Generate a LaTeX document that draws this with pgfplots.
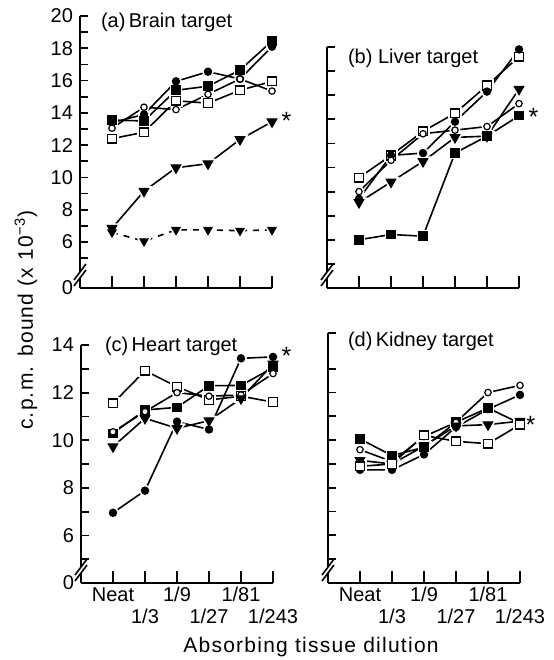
\documentclass[border=0pt]{standalone}
\usepackage{fontspec}
\setmainfont{Liberation Sans}
\newfontfamily\spaced{Liberation Sans}[LetterSpace=6]
\usepackage{pgfplots}
\usepackage{pgfplotstable}
\pgfplotsset{compat=1.18}

\pgfdeclareplotmark{dtri}{%
  \pgfpathmoveto{\pgfqpoint{0pt}{-\pgfplotmarksize}}%
  \pgfpathlineto{\pgfqpointpolar{30}{\pgfplotmarksize}}%
  \pgfpathlineto{\pgfqpointpolar{150}{\pgfplotmarksize}}%
  \pgfpathclose
  \pgfusepathqfillstroke}

\pgfplotstableread{
x fc fs oc os ft ftd
0 13.4 13.55 13.05 12.4 6.85 6.6
1 13.9 13.5 14.35 12.8 9.15 6.05
2 15.95 15.4 14.2 14.75 10.6 6.75
3 16.55 15.65 15.15 14.6 10.85 6.75
4 16.1 16.65 16.1 15.4 12.35 6.7
5 18.1 18.45 15.35 15.95 13.45 6.75
}\ta
\pgfplotstableread{
x os fc oc ft fs
0 8.58 7.7 8.0 7.55 6.0
1 9.5 9.5 9.3 8.4 6.22
2 10.5 9.6 10.4 9.25 6.15
3 11.25 10.9 10.55 10.25 9.6
4 12.4 12.15 10.7 10.3 10.3
5 13.6 13.9 11.65 12.25 11.15
}\tb
\pgfplotstableread{
x os fs oc ft fc
0 11.55 10.29 10.35 9.73 6.95
1 12.92 11.27 11.2 10.92 7.88
2 12.25 11.38 12.0 10.5 10.78
3 11.69 12.29 11.85 10.82 10.45
4 11.85 12.3 11.9 11.75 13.44
5 11.6 13.05 12.8 13.2 13.5
}\tc
\pgfplotstableread{
x fs oc fc ft os
0 10.05 9.6 8.75 9.15 8.9
1 9.35 9.1 8.75 9.0 9.0
2 9.7 10.15 9.4 9.75 10.2
3 10.75 10.75 10.55 10.6 9.95
4 11.35 12.0 11.3 10.65 9.85
5 10.7 12.3 11.9 10.8 10.65
}\td

\pgfplotsset{
  panel/.style={
    scale only axis, width=96pt,
    xmin=-1, xmax=5,
    axis x line*=bottom, axis y line*=left,
    axis line style={line width=1pt,-},
    tick align=inside,
    every tick/.style={black, line width=0.9pt},
    xtick style={/pgfplots/major tick length=6pt},
    ytick style={/pgfplots/major tick length=4pt},
    extra y tick style={ytick style={/pgfplots/major tick length=0pt}},
    tick label style={font=\fontsize{10}{12}\selectfont},
    /pgf/number format/assume math mode=true,
    clip=false,
  },
  topx/.style={xtick={0,...,5}, xticklabels={}},
  botx/.style={
    xtick={0,2,4}, xticklabels={Neat,1/9,1/81},
    extra x ticks={1,3,5}, extra x tick labels={1/3,1/27,1/243},
    xticklabel style={anchor=base, yshift=-9pt},
    extra x tick style={xtick style={/pgfplots/major tick length=6pt}, xticklabel style={yshift=-11pt}},
  },
  ln/.style={black, line width=0.8pt, solid},
  mfc/.style={mark=*, mark size=1.8pt, mark options={fill=black, line width=0.6pt, solid}},
  mfs/.style={mark=square*, mark size=2.1pt, mark options={fill=black, line width=0.6pt, solid}},
  moc/.style={mark=*, mark size=1.6pt, mark options={fill=white, line width=0.6pt, solid}},
  mos/.style={mark=square*, mark size=2.2pt, mark options={fill=white, line width=0.7pt, solid}},
  mft/.style={mark=dtri, mark size=2.8pt, mark options={fill=black, line width=0.5pt, solid}},
  mftd/.style={mark=dtri, mark size=2.4pt, mark options={fill=black, line width=0.5pt, solid}},
}
% line, halo, mark
\newcommand{\Lp}[3]{\addplot[ln,no marks,#3] table[x=x,y=#2]{#1};}
\newcommand{\Hp}[3]{\addplot[only marks,#3,mark options={draw=white,fill=white,line width=2.2pt,solid}] table[x=x,y=#2]{#1};}
\newcommand{\Mp}[3]{\addplot[only marks,black,#3] table[x=x,y=#2]{#1};}

\newcommand{\brk}[1]{%
  \fill[white] ([xshift=-1pt,yshift=5pt]#1.south west) rectangle ([xshift=1pt,yshift=8pt]#1.south west);
  \draw[line width=0.8pt] ([xshift=-3pt,yshift=1pt]#1.south west) -- ([xshift=3pt,yshift=9pt]#1.south west);
  \draw[line width=0.8pt] ([xshift=-3pt,yshift=4pt]#1.south west) -- ([xshift=3pt,yshift=12pt]#1.south west);
}
\newcommand{\astr}{\raisebox{-3pt}{\fontsize{12.5}{12.5}\selectfont *}}
\begin{document}
\begin{tikzpicture}
\path[use as bounding box] (0,0) rectangle (276.5pt,330pt);
\tikzset{every node/.append style={font=\fontsize{10}{12}\selectfont}}

% (a) Brain
\begin{axis}[panel, topx, name=a, at={(40pt,186pt)}, anchor=south west, height=136pt,
  ymin=3.15, ymax=20, ytick={5,...,20},
  yticklabels={,6,,8,,10,,12,,14,,16,,18,,20},
  extra y ticks={3.15}, extra y tick labels={0}]
\Lp{\ta}{fc}{} \Lp{\ta}{fs}{} \Lp{\ta}{oc}{} \Lp{\ta}{os}{} \Lp{\ta}{ft}{}
\Lp{\ta}{ftd}{dashed}
\Hp{\ta}{fc}{mfc} \Hp{\ta}{fs}{mfs} \Hp{\ta}{oc}{moc} \Hp{\ta}{os}{mos} \Hp{\ta}{ft}{mft} \Hp{\ta}{ftd}{mftd}
\Mp{\ta}{fc}{mfc} \Mp{\ta}{fs}{mfs} \Mp{\ta}{oc}{moc} \Mp{\ta}{os}{mos} \Mp{\ta}{ft}{mft} \Mp{\ta}{ftd}{mftd}
\node at (axis cs:5.45,13.5) {\astr};
\end{axis}

% (b) Liver
\begin{axis}[panel, topx, name=b, at={(163.5pt,186pt)}, anchor=south west, height=120.5pt,
  ymin=4, ymax=14, ytick={5,...,14}, yticklabels={}]
\Lp{\tb}{os}{} \Lp{\tb}{fc}{} \Lp{\tb}{oc}{} \Lp{\tb}{ft}{} \Lp{\tb}{fs}{}
\Hp{\tb}{os}{mos} \Hp{\tb}{fc}{mfc} \Hp{\tb}{oc}{moc} \Hp{\tb}{ft}{mft} \Hp{\tb}{fs}{mfs}
\Mp{\tb}{os}{mos} \Mp{\tb}{fc}{mfc} \Mp{\tb}{oc}{moc} \Mp{\tb}{ft}{mft} \Mp{\tb}{fs}{mfs}
\node at (axis cs:5.45,11.1) {\astr};
\end{axis}

% (c) Heart
\begin{axis}[panel, botx, name=c, at={(40.5pt,38.5pt)}, anchor=south west, height=119pt,
  ymin=4, ymax=14, ytick={5,...,14},
  yticklabels={,6,,8,,10,,12,,14},
  extra y ticks={4}, extra y tick labels={0}]
\Lp{\tc}{os}{} \Lp{\tc}{fs}{} \Lp{\tc}{oc}{} \Lp{\tc}{ft}{} \Lp{\tc}{fc}{}
\Hp{\tc}{os}{mos} \Hp{\tc}{fs}{mfs} \Hp{\tc}{oc}{moc} \Hp{\tc}{ft}{mft} \Hp{\tc}{fc}{mfc}
\Mp{\tc}{os}{mos} \Mp{\tc}{fs}{mfs} \Mp{\tc}{oc}{moc} \Mp{\tc}{ft}{mft} \Mp{\tc}{fc}{mfc}
\node at (axis cs:5.42,13.55) {\astr};
\end{axis}

% (d) Kidney
\begin{axis}[panel, botx, name=d, at={(164pt,38.5pt)}, anchor=south west, height=125pt,
  ymin=4, ymax=14.5, ytick={5,...,13,14.5}, yticklabels={}]
\Lp{\td}{fs}{} \Lp{\td}{oc}{} \Lp{\td}{fc}{} \Lp{\td}{ft}{} \Lp{\td}{os}{}
\Hp{\td}{fs}{mfs} \Hp{\td}{oc}{moc} \Hp{\td}{fc}{mfc} \Hp{\td}{ft}{mft} \Hp{\td}{os}{mos}
\Mp{\td}{fs}{mfs} \Mp{\td}{oc}{moc} \Mp{\td}{fc}{mfc} \Mp{\td}{ft}{mft} \Mp{\td}{os}{mos}
\node at (axis cs:5.33,10.65) {\astr};
\end{axis}

\brk{a}\brk{b}\brk{c}\brk{d}

\node[anchor=west] at (47pt,319pt) {(a)\,Brain target};
\node[anchor=west] at (170.5pt,301pt) {(b) Liver target};
\node[anchor=west] at (49pt,157pt) {(c)\,Heart target};
\node[anchor=west] at (170.5pt,159.5pt) {(d)\,Kidney target};
\node[rotate=90, font=\spaced\fontsize{10.5}{12}\selectfont] at (13pt,170pt) {c.p.m. bound (x 10\textsuperscript{−3})};
\node[anchor=base, font=\spaced\fontsize{10.5}{12}\selectfont] at (155.5pt,4pt) {Absorbing tissue dilution};
\end{tikzpicture}
\end{document}
